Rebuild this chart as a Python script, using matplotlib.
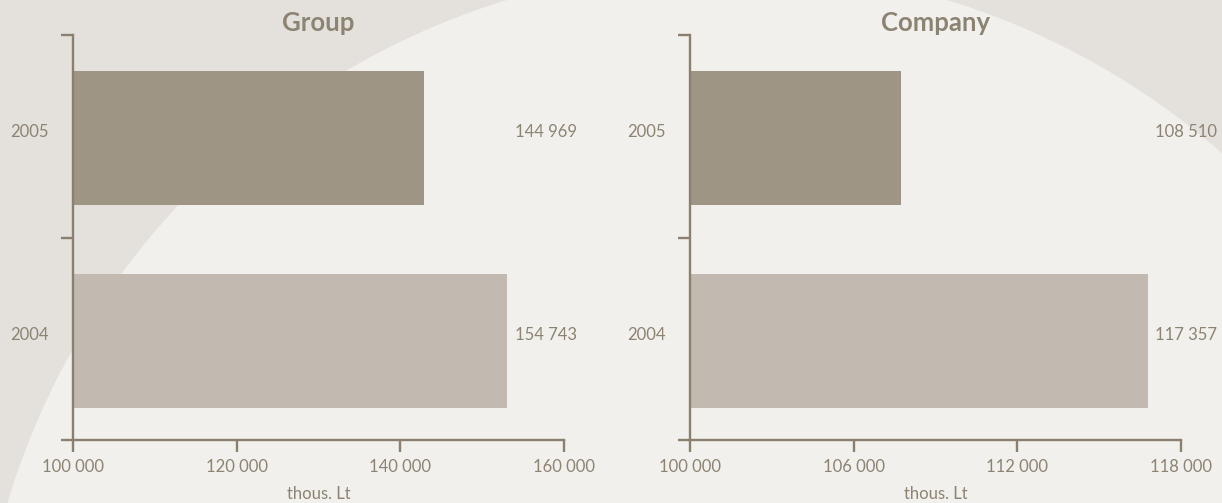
import matplotlib.pyplot as plt
from matplotlib.patches import Ellipse
from matplotlib.transforms import blended_transform_factory

# data
years = ['2004', '2005']
group_bars = [153000, 142860]
group_labels = ['154 743', '144 969']
company_bars = [116790, 107740]
company_labels = ['117 357', '108 510']
group_ticks = [100000, 120000, 140000, 160000]
company_ticks = [100000, 106000, 112000, 118000]

BG_DARK = '#e4e1dc'
BG_LIGHT = '#f1f0ec'
AXIS = '#8b8070'
TEXT = '#8c8373'
BAR_COLORS = ['#c2bab0', '#9e9585']

plt.rcParams['font.family'] = ['Lato', 'DejaVu Sans']

W, H = 1222, 503
fig = plt.figure(figsize=(W / 100, H / 100), dpi=100, facecolor=BG_DARK)
# big light circle in the background
fig.add_artist(Ellipse((727 / W, -215 / H), 2 * 751 / W, 2 * 751 / H,
                       transform=fig.transFigure, facecolor=BG_LIGHT,
                       edgecolor='none', zorder=0))


def panel(left, title, bars, labels, ticks, label_x):
    ax = fig.add_axes([left / W, 63 / H, 491 / W, 405 / H])
    ax.patch.set_visible(False)
    ypos = list(range(len(years)))
    ax.barh([y - 0.01 for y in ypos], [b - ticks[0] for b in bars],
            left=ticks[0], height=0.66, color=BAR_COLORS, zorder=2)
    ax.set_xlim(ticks[0], ticks[-1])
    ax.set_ylim(-0.5, len(years) - 0.5)
    ax.set_xticks(ticks)
    ax.set_xticklabels([f'{t:,}'.replace(',', ' ') for t in ticks])
    ax.set_yticks([i - 0.5 for i in range(len(years) + 1)])
    ax.set_yticklabels([])
    for s in ['top', 'right']:
        ax.spines[s].set_visible(False)
    for s in ['left', 'bottom']:
        ax.spines[s].set_color(AXIS)
        ax.spines[s].set_linewidth(1.7)
        ax.spines[s].set_zorder(3)
    ax.tick_params(axis='both', direction='out', length=8.6, width=1.7,
                   color=AXIS, labelcolor=TEXT, labelsize=12)
    ax.tick_params(axis='x', pad=5)
    ax.set_xlabel('thous. Lt', color=TEXT, fontsize=12, labelpad=8)
    ax.set_title(title, color=TEXT, fontsize=18.5, fontweight='bold', pad=1)
    tr = blended_transform_factory(ax.transAxes, ax.transData)
    for y, yr, lab in zip(ypos, years, labels):
        ax.text(-0.049, y + 0.02, yr, transform=tr, ha='right', va='center',
                color=TEXT, fontsize=12)
        ax.text(label_x, y + 0.02, lab, transform=tr, ha='left', va='center',
                color=TEXT, fontsize=12)
    return ax


panel(73, 'Group', group_bars, group_labels, group_ticks, 0.900)
panel(690, 'Company', company_bars, company_labels, company_ticks, 0.947)

fig.savefig('out.png', dpi=100, facecolor=fig.get_facecolor())
